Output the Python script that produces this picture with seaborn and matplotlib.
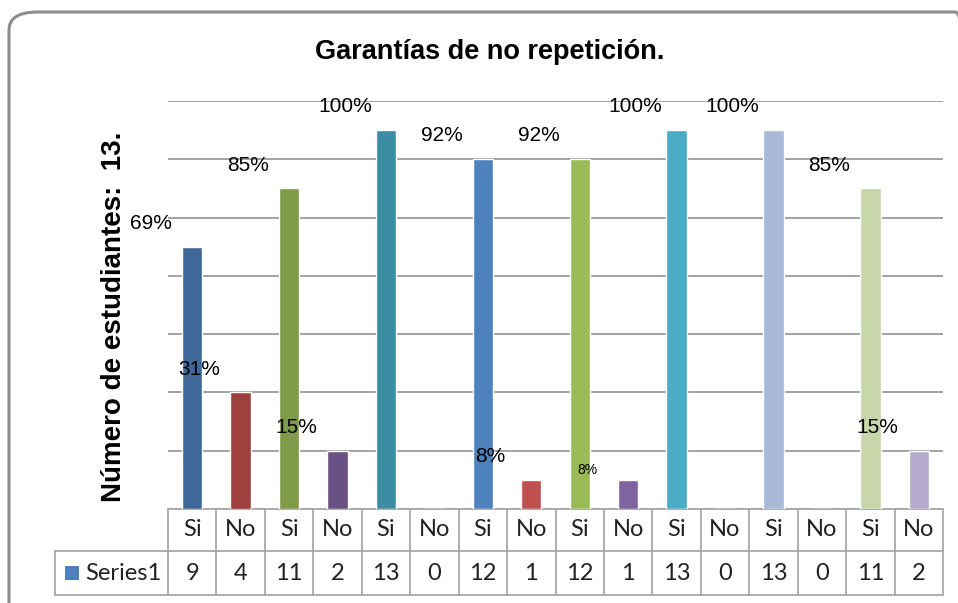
import matplotlib
matplotlib.use("Agg")
import matplotlib.pyplot as plt
import matplotlib.transforms as mtransforms
from matplotlib.patches import FancyBboxPatch, Rectangle
import seaborn as sns
import pandas as pd

# ---- data ----
categories = ["Si", "No", "Si", "No", "Si", "No", "Si", "No",
              "Si", "No", "Si", "No", "Si", "No", "Si", "No"]
values = [9, 4, 11, 2, 13, 0, 12, 1, 12, 1, 13, 0, 13, 0, 11, 2]
pct_labels = ["69%", "31%", "85%", "15%", "100%", "", "92%", "8%",
              "92%", "8%", "100%", "", "100%", "", "85%", "15%"]
series_name = "Series1"
title = "Garantías de no repetición."
ylabel = "Número de estudiantes:  13."

bar_colors = ["#3F6899", "#9E413E", "#7F9A48", "#695185", "#3C8DA3", "#CC7B38",
              "#4F81BD", "#C0504D", "#9BBB59", "#8064A2", "#4BACC6", "#F79646",
              "#A9B9D8", "#D9A9A8", "#C8D7AA", "#B8ABCD"]

sns.set_theme(style="white")
plt.rcParams["font.family"] = ["Liberation Sans", "DejaVu Sans"]

W, H = 958, 603
fig = plt.figure(figsize=(W / 100, H / 100), dpi=100)

# outer rounded frame
frame = FancyBboxPatch((9 / W, 1 - 990 / H), 975 / W, 978 / H,
                       boxstyle="round,pad=0,rounding_size=0.03",
                       transform=fig.transFigure, fill=False,
                       edgecolor="#8E8E8E", linewidth=2.2, zorder=0)
fig.patches.append(frame)

ax_left, ax_right = 168, 943
ax_top, ax_bottom = 101, 509
ax = fig.add_axes([ax_left / W, 1 - ax_bottom / H,
                   (ax_right - ax_left) / W, (ax_bottom - ax_top) / H])

n = len(values)
df = pd.DataFrame({"pos": [str(i) for i in range(n)], "val": values})
sns.barplot(data=df, x="pos", y="val", hue="pos", palette=bar_colors,
            order=df["pos"], hue_order=df["pos"], legend=False,
            width=0.42, saturation=1, ax=ax, zorder=3)

ax.set_xlim(-0.5, n - 0.5)
ax.set_ylim(0, 14)
ax.set_yticks(range(0, 15, 2))
ax.yaxis.grid(True, color="#A2A2A2", linewidth=1.4, zorder=0)
ax.set_axisbelow(True)
ax.tick_params(left=False, bottom=False, labelleft=False, labelbottom=False)
for s in ax.spines.values():
    s.set_visible(False)
ax.set_xlabel("")
ax.set_ylabel("")

# data labels (placed up-left of each bar, as in the original)
for i, (v, lab) in enumerate(zip(values, pct_labels)):
    if not lab:
        continue
    fs = 10 if i == 9 else 15
    dy = 0.35 if i == 9 else 0.8
    ax.text(i - 0.85, v + dy, lab, ha="center", va="center",
            fontsize=fs, color="black", zorder=5)

# data table beneath the plot
trans = mtransforms.blended_transform_factory(ax.transData, ax.transAxes)
axh = ax_bottom - ax_top
row1 = -(551 - ax_bottom) / axh
row2 = -(595 - ax_bottom) / axh
cw = (ax_right - ax_left) / n
x_left_cell = -0.5 - (ax_left - 55) / cw
lc = "#A8A8A8"
lw = 1.3
for k in range(n + 1):
    ax.plot([k - 0.5, k - 0.5], [0, row2], transform=trans, color=lc,
            lw=lw, clip_on=False, zorder=2)
ax.plot([-0.5, n - 0.5], [0, 0], transform=trans, color=lc, lw=lw,
        clip_on=False, zorder=2)
ax.plot([x_left_cell, n - 0.5], [row1, row1], transform=trans, color=lc,
        lw=lw, clip_on=False, zorder=2)
ax.plot([x_left_cell, n - 0.5], [row2, row2], transform=trans, color=lc,
        lw=lw, clip_on=False, zorder=2)
ax.plot([x_left_cell, x_left_cell], [row1, row2], transform=trans,
        color=lc, lw=lw, clip_on=False, zorder=2)

tfont = ["Lato", "DejaVu Sans"]
for i, (c, v) in enumerate(zip(categories, values)):
    ax.text(i, row1 / 2, c, transform=trans, ha="center", va="center",
            fontsize=17, color="#222222", family=tfont)
    ax.text(i, (row1 + row2) / 2, str(v), transform=trans, ha="center",
            va="center", fontsize=17, color="#222222", family=tfont)

# legend key in table
ymid_px = (551 + 595) / 2
fig.patches.append(Rectangle((65 / W, 1 - (ymid_px + 7) / H), 14 / W, 14 / H,
                             transform=fig.transFigure, facecolor="#4F81BD",
                             edgecolor="none"))
fig.text(85 / W, 1 - ymid_px / H, series_name, ha="left", va="center",
         fontsize=17, color="#222222", family=tfont)

# title and y label
fig.text(490 / W, 1 - 52 / H, title, ha="center", va="center",
         fontsize=19.5, fontweight="bold", color="black")
fig.text(114 / W, 1 - 317 / H, ylabel, ha="center", va="center",
         rotation=90, fontsize=20, fontweight="bold", color="black")

fig.savefig("out.png", dpi=100)
